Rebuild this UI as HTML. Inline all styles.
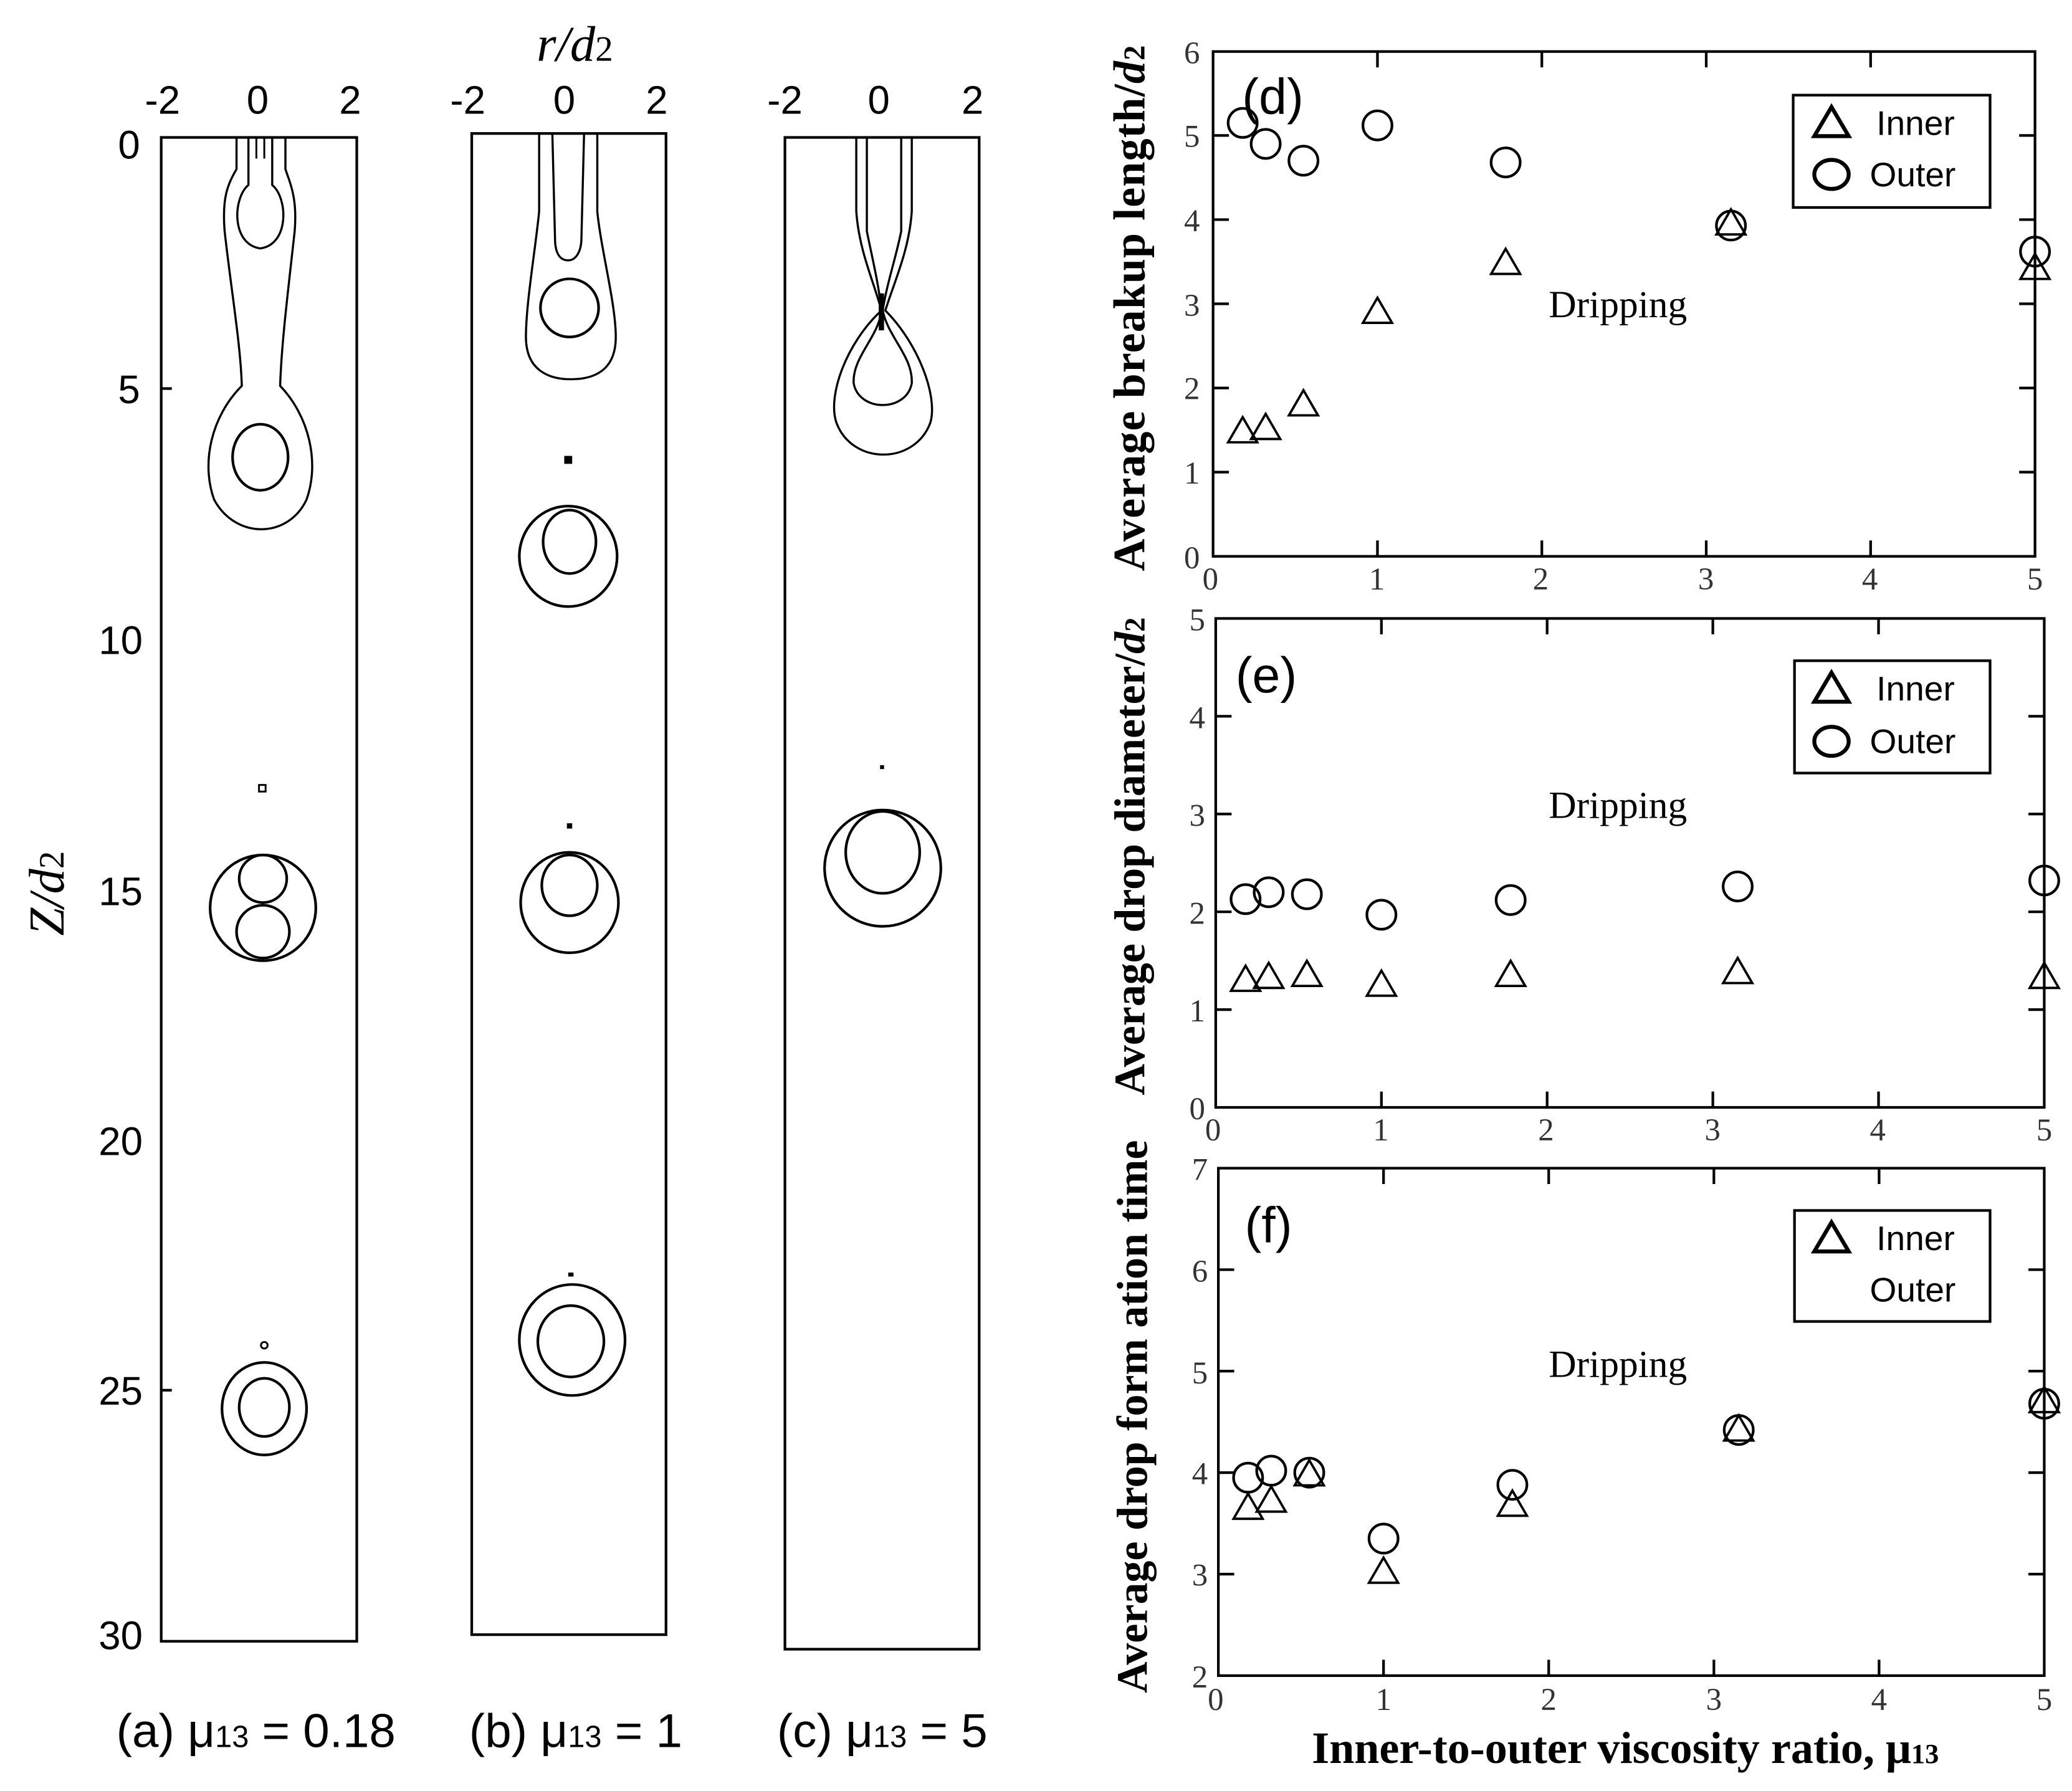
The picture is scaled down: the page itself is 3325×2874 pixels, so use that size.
<!DOCTYPE html>
<html><head><meta charset="utf-8"><style>
html,body{margin:0;padding:0;background:#fff}
svg{display:block}
.s{font-family:"Liberation Sans",sans-serif}
.r{font-family:"Liberation Serif",serif}
</style></head><body>
<svg width="3325" height="2874" viewBox="0 0 1568 1355.3" preserveAspectRatio="none" xmlns="http://www.w3.org/2000/svg">
<rect width="1568" height="1356" fill="#fff"/>
<g fill="none" stroke="#000" stroke-width="2">
<rect x="122" y="104" width="148" height="1138"/>
<line x1="122" y1="294" x2="130" y2="294"/><line x1="122" y1="1052" x2="130" y2="1052"/>
<path d="M179,104 L179,128 C172,140 168,150 170,175 C175,220 182,260 183,292 C160,315 152,350 162,378 C178,408 218,408 232,378 C242,350 234,315 212,292 C213,260 218,220 223,175 C225,150 220,140 216,128 L216,104" stroke-width="1.6"/>
<path d="M188,104 L188,140 C176,150 175,185 197,188 C219,185 218,150 206,140 L206,104" stroke-width="1.6"/>
<line x1="194" y1="104" x2="194" y2="120" stroke-width="1.4"/><line x1="200" y1="104" x2="200" y2="120" stroke-width="1.4"/>
<ellipse cx="197" cy="346" rx="21" ry="25"/>
<rect x="196" y="594" width="5" height="5" stroke-width="1.4"/>
<circle cx="199" cy="687" r="40"/>
<circle cx="199" cy="665" r="18"/><circle cx="199" cy="705" r="20"/>
<circle cx="200" cy="1018" r="2.5" stroke-width="1.4"/>
<ellipse cx="200" cy="1066" rx="32" ry="35"/>
<ellipse cx="200" cy="1065" rx="19" ry="22"/>
<rect x="357" y="101" width="147" height="1136"/>
<path d="M408,101 L408,160 C405,190 398,230 398,255 C398,280 415,287 432,287 C450,287 466,280 466,255 C466,230 455,190 452,160 L452,101" stroke-width="1.6"/>
<path d="M418,101 L420,180 C420,195 426,197 430,197 C436,197 440,190 440,180 L442,101" stroke-width="1.6"/>
<circle cx="431" cy="233" r="22"/>
<rect x="428" y="346" width="4" height="4" fill="#000"/>
<ellipse cx="430" cy="421" rx="37" ry="38"/><ellipse cx="431" cy="410" rx="20" ry="24"/>
<rect x="429" y="623" width="4" height="4" fill="#000" stroke="none"/>
<ellipse cx="431" cy="683" rx="37" ry="38"/><ellipse cx="431" cy="670" rx="21" ry="23"/>
<rect x="430" y="963" width="4" height="3" fill="#000" stroke="none"/>
<ellipse cx="433" cy="1014" rx="40" ry="42"/><ellipse cx="432" cy="1015" rx="25" ry="27"/>
<rect x="594" y="104" width="147" height="1144"/>
<path d="M648,104 L648,160 C650,190 662,215 667,235 C640,260 626,300 633,320 C645,352 692,352 704,320 C710,300 695,260 670,235 C676,215 688,190 690,160 L690,104" stroke-width="1.6"/>
<path d="M656,104 L656,175 C660,195 665,215 667,235 C665,255 645,270 646,290 C650,312 686,312 690,290 C691,270 672,255 668,235 C671,215 678,195 682,175 L682,104" stroke-width="1.6"/>
<line x1="667" y1="222" x2="667" y2="250" stroke-width="4"/>
<rect x="666" y="579" width="3" height="3" fill="#000" stroke="none"/>
<circle cx="668" cy="657" r="44"/><ellipse cx="668" cy="645" rx="28" ry="31"/>
</g>
<g class="s" font-size="30" text-anchor="middle" fill="#000">
<text x="123" y="86">-2</text><text x="195" y="86">0</text><text x="265" y="86">2</text>
<text x="354" y="86">-2</text><text x="427" y="86">0</text><text x="497" y="86">2</text>
<text x="594" y="86">-2</text><text x="665" y="86">0</text><text x="736" y="86">2</text>
</g>
<g class="s" font-size="30" text-anchor="end" fill="#000">
<text x="106" y="120">0</text><text x="106" y="305">5</text><text x="108" y="495">10</text>
<text x="108" y="685">15</text><text x="108" y="874">20</text><text x="108" y="1063">25</text><text x="108" y="1248">30</text>
</g>
<text class="r" x="435" y="46" font-size="38" font-style="italic" text-anchor="middle">r/d<tspan font-size="27" font-style="normal">2</tspan></text>
<text class="r" transform="translate(48,676) rotate(-90)" font-size="38" font-style="italic" text-anchor="middle">Z/d<tspan font-size="27" font-style="normal">2</tspan></text>
<g class="s" font-size="36" fill="#000">
<text x="88" y="1322">(a) μ<tspan font-size="23">13</tspan> = 0.18</text>
<text x="355" y="1322">(b) μ<tspan font-size="23">13</tspan> = 1</text>
<text x="588" y="1322">(c) μ<tspan font-size="23">13</tspan> = 5</text>
</g>

<g fill="none" stroke="#000" stroke-width="2">
<rect x="918" y="39" width="622" height="382"/>
<path d="M1042.4,421v-12M1166.8,421v-12M1291.2,421v-12M1415.6,421v-12M1042.4,39v12M1166.8,39v12M1291.2,39v12M1415.6,39v12
M918,357.3h12M918,293.6h12M918,229.9h12M918,166.2h12M918,102.5h12M1540,357.3h-12M1540,293.6h-12M1540,229.9h-12M1540,166.2h-12M1540,102.5h-12"/>
<rect x="1357" y="72" width="149" height="85"/>
<circle cx="940.4" cy="93" r="11"/><circle cx="957.8" cy="108.9" r="11"/><circle cx="986.4" cy="121.6" r="11"/><circle cx="1042.4" cy="94.9" r="11"/><circle cx="1139.4" cy="122.9" r="11"/><circle cx="1309.9" cy="170.7" r="11"/><circle cx="1540" cy="190.4" r="11"/>
</g>
<g fill="none" stroke="#000" stroke-width="1.8">
<path d="M929.4,334.7h22l-11,-19z"/><path d="M946.8,332.2h22l-11,-19z"/><path d="M975.4,314.3h22l-11,-19z"/><path d="M1031.4,244.3h22l-11,-19z"/><path d="M1128.4,207.3h22l-11,-19z"/><path d="M1298.9,177.4h22l-11,-19z"/><path d="M1529,211.1h22l-11,-19z"/>
</g>
<path d="M1373,103h26l-13,-22z" fill="none" stroke="#000" stroke-width="3"/>
<ellipse cx="1386" cy="132" rx="13" ry="11" fill="none" stroke="#000" stroke-width="3"/>
<g class="s" font-size="26"><text x="1420" y="102">Inner</text><text x="1415" y="141">Outer</text></g>
<text class="s" x="940" y="86" font-size="38">(d)</text>
<text class="r" x="1172" y="240" font-size="29">Dripping</text>
<g class="r" font-size="24" fill="#333">
<text x="896" y="48">6</text><text x="896" y="111">5</text><text x="896" y="175">4</text><text x="896" y="239">3</text><text x="896" y="302">2</text><text x="896" y="366">1</text><text x="896" y="430">0</text>
<text x="910" y="446">0</text><text x="1036" y="446">1</text><text x="1160" y="446">2</text><text x="1285" y="446">3</text><text x="1409" y="446">4</text><text x="1534" y="446">5</text>
</g>
<text class="r" transform="translate(866,233) rotate(-90)" font-size="34" font-weight="bold" letter-spacing="0.5" text-anchor="middle">Average breakup length/<tspan font-style="italic">d</tspan><tspan font-size="23">2</tspan></text>

<g fill="none" stroke="#000" stroke-width="2">
<rect x="920" y="468" width="627" height="370"/>
<path d="M1045.4,838v-12M1170.8,838v-12M1296.2,838v-12M1421.6,838v-12M1045.4,468v12M1170.8,468v12M1296.2,468v12M1421.6,468v12
M920,764h12M920,690h12M920,616h12M920,542h12M1547,764h-12M1547,690h-12M1547,616h-12M1547,542h-12"/>
<rect x="1358" y="500" width="148" height="85"/>
<circle cx="942.6" cy="680.4" r="11"/><circle cx="960.1" cy="675.2" r="11"/><circle cx="989" cy="676.7" r="11"/><circle cx="1045.4" cy="692.2" r="11"/><circle cx="1143.2" cy="681.1" r="11"/><circle cx="1315" cy="670.8" r="11"/><circle cx="1547" cy="666.3" r="11"/>
</g>
<g fill="none" stroke="#000" stroke-width="1.8">
<path d="M931.6,749.8h22l-11,-19z"/><path d="M949.1,747.6h22l-11,-19z"/><path d="M978,746.1h22l-11,-19z"/><path d="M1034.4,753.5h22l-11,-19z"/><path d="M1132.2,746.1h22l-11,-19z"/><path d="M1304,743.9h22l-11,-19z"/><path d="M1536,747.6h22l-11,-19z"/>
</g>
<path d="M1373,531h26l-13,-22z" fill="none" stroke="#000" stroke-width="3"/>
<ellipse cx="1386" cy="561" rx="13" ry="11" fill="none" stroke="#000" stroke-width="3"/>
<g class="s" font-size="26"><text x="1420" y="530">Inner</text><text x="1415" y="570">Outer</text></g>
<text class="s" x="935" y="524" font-size="38">(e)</text>
<text class="r" x="1172" y="619" font-size="29">Dripping</text>
<g class="r" font-size="24" fill="#333">
<text x="900" y="477">5</text><text x="900" y="551">4</text><text x="900" y="625">3</text><text x="900" y="699">2</text><text x="900" y="773">1</text><text x="900" y="847">0</text>
<text x="912" y="863">0</text><text x="1039" y="863">1</text><text x="1164" y="863">2</text><text x="1290" y="863">3</text><text x="1415" y="863">4</text><text x="1541" y="863">5</text>
</g>
<text class="r" transform="translate(866,648) rotate(-90)" font-size="33" font-weight="bold" text-anchor="middle">Average drop diameter/<tspan font-style="italic">d</tspan><tspan font-size="22">2</tspan></text>

<g fill="none" stroke="#000" stroke-width="2">
<rect x="922" y="884" width="625" height="384"/>
<path d="M1047,1268v-12M1172,1268v-12M1297,1268v-12M1422,1268v-12M1047,884v12M1172,884v12M1297,884v12M1422,884v12
M922,1191.2h12M922,1114.4h12M922,1037.6h12M922,960.8h12M1547,1191.2h-12M1547,1114.4h-12M1547,1037.6h-12M1547,960.8h-12"/>
<rect x="1358" y="916" width="148" height="84"/>
<circle cx="944.5" cy="1118.2" r="11"/><circle cx="962" cy="1112.9" r="11"/><circle cx="990.8" cy="1114.4" r="11"/><circle cx="1047" cy="1164.3" r="11"/><circle cx="1144.5" cy="1123.6" r="11"/><circle cx="1315.8" cy="1082.1" r="11"/><circle cx="1547" cy="1062.2" r="11"/>
</g>
<g fill="none" stroke="#000" stroke-width="1.8">
<path d="M933.5,1149.3h22l-11,-19z"/><path d="M951,1143.9h22l-11,-19z"/><path d="M979.8,1124h22l-11,-19z"/><path d="M1036,1197.7h22l-11,-19z"/><path d="M1133.5,1147h22l-11,-19z"/><path d="M1304.8,1090.1h22l-11,-19z"/><path d="M1536,1068.6h22l-11,-19z"/>
</g>
<path d="M1373,947h26l-13,-22z" fill="none" stroke="#000" stroke-width="3"/>
<g class="s" font-size="26"><text x="1420" y="946">Inner</text><text x="1415" y="985">Outer</text></g>
<text class="s" x="942" y="940" font-size="38">(f)</text>
<text class="r" x="1172" y="1042" font-size="29">Dripping</text>
<g class="r" font-size="24" fill="#333">
<text x="902" y="893">7</text><text x="902" y="970">6</text><text x="902" y="1047">5</text><text x="902" y="1123">4</text><text x="902" y="1200">3</text><text x="902" y="1277">2</text>
<text x="914" y="1294">0</text><text x="1041" y="1294">1</text><text x="1166" y="1294">2</text><text x="1291" y="1294">3</text><text x="1416" y="1294">4</text><text x="1541" y="1294">5</text>
</g>
<text class="r" transform="translate(868,1072) rotate(-90)" font-size="33" font-weight="bold" text-anchor="middle">Average drop form ation time</text>
<text class="r" x="1230" y="1334" font-size="34" font-weight="bold" text-anchor="middle">Inner-to-outer viscosity ratio, μ<tspan font-size="21">13</tspan></text>
</svg>
</body></html>
